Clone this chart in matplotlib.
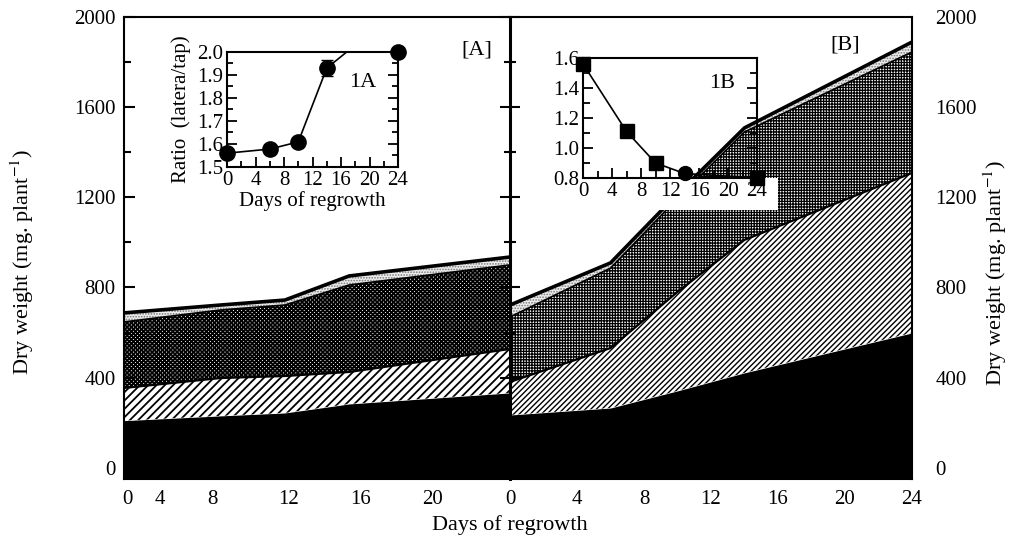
import matplotlib.pyplot as plt
import numpy as np
from matplotlib.patches import Rectangle
from matplotlib.ticker import MultipleLocator

plt.rcParams['font.family'] = ['Liberation Serif', 'DejaVu Serif']
plt.rcParams['mathtext.fontset'] = 'stix'

# sampling days (both panels and both insets)
days = [0, 6, 10, 14, 24]

# panel A, cumulative tops of each layer (mg/plant)
A_black = [209, 230, 243, 283, 332]
A_hatch = [354, 398, 407, 425, 527]
A_cross = [647, 700, 722, 811, 900]
A_stip = [687, 722, 744, 851, 935]

# panel B
B_black = [234, 265, 341, 421, 598]
B_hatch = [381, 531, 780, 1011, 1308]
B_cross = [669, 886, 1195, 1490, 1845]
B_stip = [722, 909, 1215, 1508, 1889]

# inset ratios
ratio_A = [1.56, 1.578, 1.609, 1.93, 2.18]
err_A = [0, 0, 0, 0.035, 0]
ratio_B = [1.56, 1.11, 0.90, 0.83, 0.80]

left_ticklabels = ['0', '4', '8', '12', '16', '20']
# label spots as printed in the original panel A (not evenly spaced there)
left_tickpos = [0.2, 2.2, 5.5, 10.2, 14.7, 19.2]

fig = plt.figure(figsize=(10.14, 5.45), dpi=100)
ax1 = fig.add_axes([0.1223, 0.1211, 0.3807, 0.8477])
ax2 = fig.add_axes([0.503, 0.1211, 0.3964, 0.8477])

YMIN, YMAX = -50, 2000


def hatch_lw(coll, lw):
    if hasattr(coll, 'set_hatch_linewidth'):
        coll.set_hatch_linewidth(lw)


def stack(ax, black, hat, cross, stip, diag, diag_lw, grid, grid_lw):
    ax.fill_between(days, YMIN, black, color='black', lw=0)
    plt.rcParams['hatch.linewidth'] = diag_lw
    c = ax.fill_between(days, black, hat, facecolor='white', edgecolor='black',
                        hatch=diag, lw=0)
    hatch_lw(c, diag_lw)
    plt.rcParams['hatch.linewidth'] = grid_lw
    c = ax.fill_between(days, hat, cross, facecolor='white', edgecolor='black',
                        hatch=grid, lw=0)
    hatch_lw(c, grid_lw)
    plt.rcParams['hatch.linewidth'] = 0.8
    c = ax.fill_between(days, cross, stip, facecolor='#ececec', edgecolor='#777777',
                        hatch='......', lw=0)
    hatch_lw(c, 0.8)
    ax.plot(days, hat, color='black', lw=1.6)
    ax.plot(days, cross, color='black', lw=1.2)
    ax.plot(days, stip, color='black', lw=2.6)


stack(ax1, A_black, A_hatch, A_cross, A_stip, '////', 1.3, 'xxxxxxxx', 1.3)
stack(ax2, B_black, B_hatch, B_cross, B_stip, '//////', 1.0, '++++++', 0.9)

for ax in (ax1, ax2):
    ax.set_xlim(0, 24)
    ax.set_ylim(YMIN, YMAX)
    ax.yaxis.set_major_locator(MultipleLocator(400))
    ax.yaxis.set_minor_locator(MultipleLocator(200))
    ax.tick_params(axis='x', length=0, labelsize=15, pad=8)
    for s in ax.spines.values():
        s.set_linewidth(1.5)

ax1.set_xticks(left_tickpos, left_ticklabels)
ax2.set_xticks([0, 4, 8, 12, 16, 20, 24])
ax1.spines['right'].set_visible(False)
ax2.spines['left'].set_linewidth(2.2)

ax1.tick_params(axis='y', which='both', direction='in', right=False, width=1.5,
                labelsize=15, pad=6)
ax1.tick_params(axis='y', which='major', length=8)
ax1.tick_params(axis='y', which='minor', length=5)

ax2.tick_params(axis='y', which='both', direction='inout', left=True, right=False,
                labelleft=False, labelright=True, width=1.5, labelsize=15, pad=10)
ax2.tick_params(axis='y', which='major', length=14)
ax2.tick_params(axis='y', which='minor', length=9)

ax1.text(0.914, 0.929, '[A]', transform=ax1.transAxes, fontsize=16,
         ha='center', va='center')
ax2.text(0.833, 0.939, '[B]', transform=ax2.transAxes, fontsize=16,
         ha='center', va='center')

ylab = 'Dry weight (mg. plant$^{-1}$)'
fig.text(22 / 1014, 0.52, ylab, rotation=90, ha='center', va='center', fontsize=16)
fig.text(995 / 1014, 0.50, ylab, rotation=90, ha='center', va='center', fontsize=16)
fig.text(0.503, 0.037, 'Days of regrowth', ha='center', va='center', fontsize=16)

# white band behind the tick labels of inset B
fig.add_artist(Rectangle((0.573, 0.6147), 0.194, 0.0587, transform=fig.transFigure,
                         facecolor='white', edgecolor='none', zorder=2))

# inset 1A
ins1 = fig.add_axes([0.2239, 0.6936, 0.1686, 0.211], zorder=3)
ins1.set_facecolor('none')
ins1.plot(days, ratio_A, color='black', lw=1.2)
ins1.errorbar(days, np.minimum(ratio_A, 2.0), yerr=err_A, fmt='o', color='black',
              ms=11, capsize=4, elinewidth=1.2, clip_on=False)
ins1.set_xlim(0, 24)
ins1.set_ylim(1.5, 2.0)
ins1.xaxis.set_major_locator(MultipleLocator(4))
ins1.xaxis.set_minor_locator(MultipleLocator(2))
ins1.yaxis.set_major_locator(MultipleLocator(0.1))
ins1.yaxis.set_minor_locator(MultipleLocator(0.05))
ins1.yaxis.set_major_formatter('{x:.1f}')
ins1.tick_params(which='both', direction='in', right=True, top=False, width=1.3,
                 labelsize=15, pad=3)
ins1.tick_params(which='major', length=7)
ins1.tick_params(which='minor', length=4)
ins1.set_ylabel('Ratio  (latera/tap)', fontsize=15, labelpad=4)
ins1.set_xlabel('Days of regrowth', fontsize=15, labelpad=1)
ins1.text(0.795, 0.739, '1A', transform=ins1.transAxes, fontsize=16,
          ha='center', va='center')
for s in ins1.spines.values():
    s.set_linewidth(1.5)

# inset 1B
ins2 = fig.add_axes([0.575, 0.6734, 0.1716, 0.2202], zorder=3)
ins2.set_facecolor('none')
ins2.plot(days, ratio_B, color='black', lw=1.2, clip_on=False)
ins2.plot(days[:3], ratio_B[:3], 's', color='black', ms=10, clip_on=False)
ins2.plot(days[3], ratio_B[3], 'o', color='black', ms=10, clip_on=False)
ins2.plot(days[4], ratio_B[4], 's', color='black', ms=10, clip_on=False)
ins2.set_xlim(0, 24)
ins2.set_ylim(0.8, 1.6)
ins2.xaxis.set_major_locator(MultipleLocator(4))
ins2.xaxis.set_minor_locator(MultipleLocator(2))
ins2.yaxis.set_major_locator(MultipleLocator(0.2))
ins2.yaxis.set_minor_locator(MultipleLocator(0.1))
ins2.yaxis.set_major_formatter('{x:.1f}')
ins2.tick_params(which='both', direction='in', right=True, top=False, width=1.3,
                 labelsize=15, pad=3)
ins2.tick_params(which='major', length=7)
ins2.tick_params(which='minor', length=5)
ins2.text(0.80, 0.79, '1B', transform=ins2.transAxes, fontsize=16,
          ha='center', va='center')
for s in ins2.spines.values():
    s.set_linewidth(1.5)

fig.savefig('out.png', dpi=100)
